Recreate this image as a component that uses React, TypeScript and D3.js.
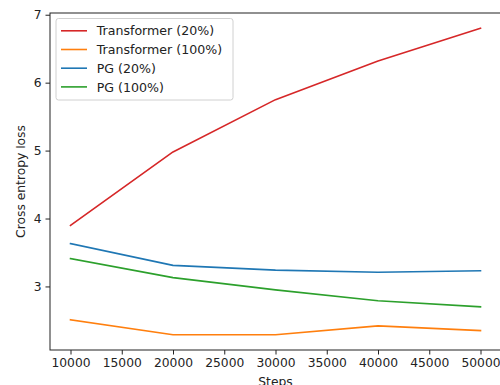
import * as d3 from "d3";
import React, { useRef, useEffect } from "react";

const steps = [10000, 20000, 30000, 40000, 50000];
const transformer20 = [3.9, 4.98, 5.75, 6.32, 6.8];
const transformer100 = [2.51, 2.29, 2.29, 2.42, 2.35];
const pg20 = [3.63, 3.31, 3.24, 3.21, 3.23];
const pg100 = [3.41, 3.13, 2.95, 2.79, 2.7];
const seriesNames = ["Transformer (20%)", "Transformer (100%)", "PG (20%)", "PG (100%)"];
const seriesColors = ["#d62728", "#ff7f0e", "#1f77b4", "#2ca02c"];
const xTicks = [10000, 15000, 20000, 25000, 30000, 35000, 40000, 45000, 50000];
const yTicks = [3, 4, 5, 6, 7];

const W = 500;
const H = 385;
const left = 50;
const right = 501;
const top = 13;
const bottom = 350;
const font = "DejaVu Sans, sans-serif";

function App() {
  const ref = useRef<SVGSVGElement>(null);

  useEffect(() => {
    const svg = d3.select(ref.current);
    svg.selectAll("*").remove();

    const all = [...transformer20, ...transformer100, ...pg20, ...pg100];
    const ymin = d3.min(all) as number;
    const ymax = d3.max(all) as number;
    const ypad = (ymax - ymin) * 0.05;
    const xpad = (steps[steps.length - 1] - steps[0]) * 0.05;

    const x = d3
      .scaleLinear()
      .domain([steps[0] - xpad, steps[steps.length - 1] + xpad])
      .range([left, right]);
    const y = d3
      .scaleLinear()
      .domain([ymin - ypad, ymax + ypad])
      .range([bottom, top]);

    const data = [transformer20, transformer100, pg20, pg100];
    const line = d3
      .line<number>()
      .x((d, i) => x(steps[i]))
      .y((d) => y(d));

    svg
      .append("g")
      .selectAll("path")
      .data(data)
      .enter()
      .append("path")
      .attr("d", (d) => line(d))
      .attr("fill", "none")
      .attr("stroke", (d, i) => seriesColors[i])
      .attr("stroke-width", 1.6)
      .attr("stroke-linejoin", "round")
      .attr("stroke-linecap", "square");

    // spines
    svg
      .append("rect")
      .attr("x", left)
      .attr("y", top)
      .attr("width", right - left)
      .attr("height", bottom - top)
      .attr("fill", "none")
      .attr("stroke", "#222")
      .attr("stroke-width", 1);

    const xAxis = d3
      .axisBottom(x)
      .tickValues(xTicks)
      .tickSize(4.5)
      .tickPadding(4)
      .tickFormat((d) => String(d));
    const gx = svg.append("g").attr("transform", `translate(0,${bottom})`).call(xAxis);
    gx.select(".domain").remove();

    const yAxis = d3
      .axisLeft(y)
      .tickValues(yTicks)
      .tickSize(4.5)
      .tickPadding(4)
      .tickFormat((d) => String(d));
    const gy = svg.append("g").attr("transform", `translate(${left},0)`).call(yAxis);
    gy.select(".domain").remove();

    svg
      .selectAll(".tick text")
      .attr("font-family", font)
      .attr("font-size", 12.3)
      .attr("fill", "#222");
    svg.selectAll(".tick line").attr("stroke", "#222");

    svg
      .append("text")
      .attr("x", (left + right) / 2)
      .attr("y", 386)
      .attr("text-anchor", "middle")
      .attr("font-family", font)
      .attr("font-size", 12.3)
      .attr("fill", "#222")
      .text("Steps");

    svg
      .append("text")
      .attr("transform", `translate(25,${(top + bottom) / 2}) rotate(-90)`)
      .attr("text-anchor", "middle")
      .attr("font-family", font)
      .attr("font-size", 12.3)
      .attr("fill", "#222")
      .text("Cross entropy loss");

    // legend
    const lg = svg.append("g").attr("transform", "translate(56,18.5)");
    lg.append("rect")
      .attr("width", 177)
      .attr("height", 81.5)
      .attr("rx", 2.5)
      .attr("fill", "white")
      .attr("fill-opacity", 0.8)
      .attr("stroke", "#d0d0d0")
      .attr("stroke-width", 1);
    const items = lg
      .selectAll("g.item")
      .data(seriesNames)
      .enter()
      .append("g")
      .attr("class", "item")
      .attr("transform", (d, i) => `translate(0,${12.3 + i * 18.7})`);
    items
      .append("line")
      .attr("x1", 5)
      .attr("x2", 31)
      .attr("stroke", (d, i) => seriesColors[i])
      .attr("stroke-width", 1.6);
    items
      .append("text")
      .attr("x", 40.7)
      .attr("y", 4.6)
      .attr("font-family", font)
      .attr("font-size", 12.6)
      .attr("fill", "#222")
      .text((d) => d);
  }, []);

  return (
    <svg
      ref={ref}
      width={W}
      height={H}
      style={{ position: "absolute", left: 0, top: 0, background: "white" }}
    />
  );
}

export default App;
